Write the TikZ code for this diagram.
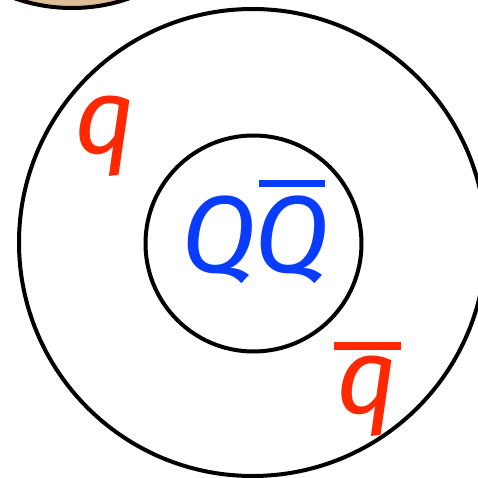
\documentclass[tikz,border=0pt]{standalone}
\usepackage{fontspec}
\setmainfont{Fira Sans}
\definecolor{qblue}{RGB}{10,60,255}
\definecolor{qred}{RGB}{255,40,0}
\definecolor{tan}{RGB}{222,190,150}
\begin{document}
\begin{tikzpicture}[x=0.75pt,y=-0.75pt,
  ring/.style={draw=black,line width=3pt},
  blabel/.style={text=qblue,font=\fontsize{82}{82}\selectfont\itshape,inner sep=0pt},
  rlabel/.style={text=qred,font=\fontsize{80}{80}\selectfont\itshape,inner sep=0pt}]
\useasboundingbox (0,0) rectangle (478,478);
\begin{scope}
\clip (0,0) rectangle (478,478);
\filldraw[ring,fill=tan] (72,-165) circle (173);
\draw[ring] (252.5,242.5) circle (233.5);
\draw[ring] (253.5,243.5) circle (108);
\end{scope}
\node[blabel,anchor=base] (Q1) at (219,272) {Q};
\node[blabel,anchor=base] (Q2) at (292,272) {Q};
\draw[qblue,line width=5.5pt] (259,183.5) -- (325,183.5);
\node[rlabel,anchor=base] (q1) at (105,153) {q};
\node[rlabel,anchor=base] (q2) at (367,413) {q};
\draw[qred,line width=5.5pt] (334,346) -- (401,346);
\end{tikzpicture}
\end{document}
